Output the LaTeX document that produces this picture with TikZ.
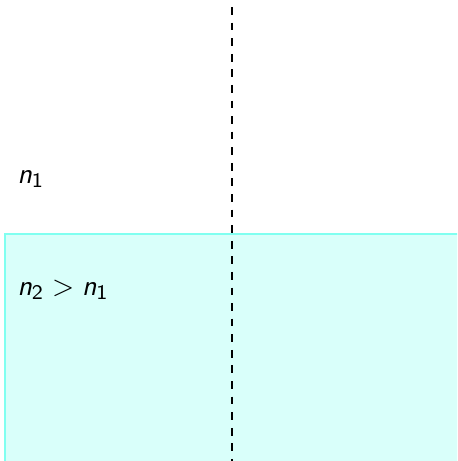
\documentclass[tikz,border=0pt]{standalone}
\usepackage{amsmath,amssymb}
\usetikzlibrary{positioning}
\definecolor{waterfill}{RGB}{217,255,250}
\definecolor{waterline}{RGB}{128,255,240}
\newcommand{\sfn}{\text{\sffamily\itshape n}}

\begin{document}
\begin{tikzpicture}[x=0.385pt,y=-0.385pt,
		medium/.style={draw=waterline,fill=waterfill},
		label/.style={anchor=base west,inner sep=0pt,font=\fontsize{11}{13}\selectfont}]
		
		\useasboundingbox (0,0) rectangle (457,461);
		\clip (0,0) rectangle (457,461);
		
		% lower medium
		\draw[medium] (5,234) rectangle (470,475);
		
		% normal
		\coordinate (top) at (232,7);
		\coordinate (bottom) at (232,470);
		\draw[dashed] (top)--(bottom);
		
		\node[label]
		(upper)
		at (17,183)
		{$\sfn_{\mathsf{1}}$};
		
		\node[label]
		(lower)
		at (17,295)
		{$\sfn_{\mathsf{2}} > \sfn_{\mathsf{1}}$};
		
	\end{tikzpicture}
\end{document}
